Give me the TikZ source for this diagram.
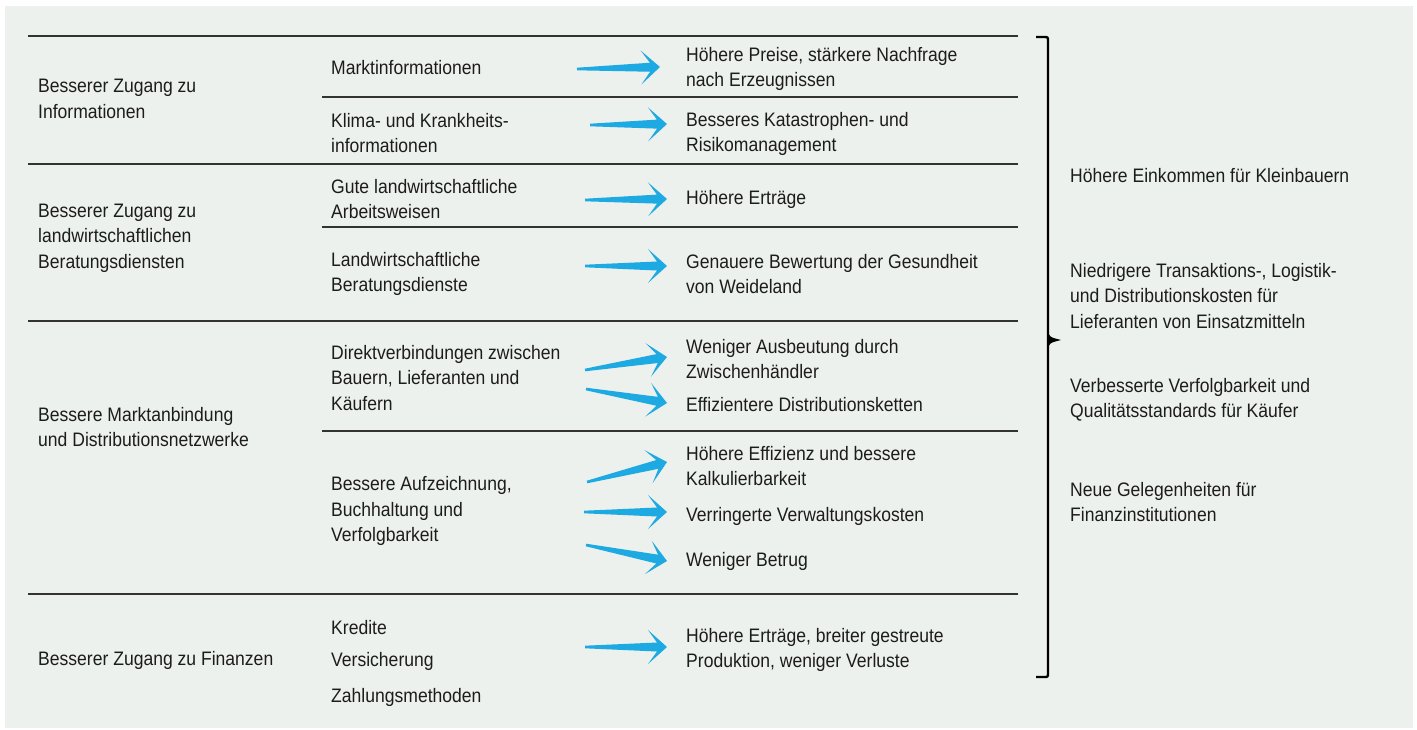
\documentclass[tikz,border=0pt]{standalone}
\usepackage{fontspec}
\setmainfont{Liberation Sans}[FakeStretch=0.9]
\usetikzlibrary{calc}
\definecolor{panel}{HTML}{EDF1EE}
\definecolor{arrowc}{HTML}{1DA9E1}
\definecolor{rulec}{HTML}{333333}
\definecolor{txt}{HTML}{1C1C1C}
\newcommand\fatarr[2]{%
  \coordinate (#1n) at ($(#2)!10pt!(#1)$);
  \coordinate (#1w) at ($(#2)!19pt!(#1)$);
  \fill[arrowc] ($(#1)!1.3pt!90:(#2)$) -- ($(#1n)!4.5pt!90:(#2)$) -- ($(#1w)!17pt!90:(#2)$) -- (#2)
     -- ($(#1w)!17pt!-90:(#2)$) -- ($(#1n)!4.5pt!-90:(#2)$) -- ($(#1)!1.3pt!-90:(#2)$) -- cycle;}
\begin{document}
\begin{tikzpicture}[x=1pt,y=-1pt,
  lbl/.style={anchor=west,inner sep=0pt,align=left,text=txt,font=\fontsize{19.5}{25.5}\selectfont},
  rowline/.style={draw=rulec,line width=1.3pt},
  bracel/.style={draw=black,line width=2.4pt}]
\useasboundingbox (0,0) rectangle (1417,729);
\fill[panel] (5,6) rectangle (1413,728);
% rules
\draw[rowline] (28,36) -- (1018,36);
\draw[rowline] (322,97) -- (1018,97);
\draw[rowline] (28,164) -- (1018,164);
\draw[rowline] (322,227) -- (1018,227);
\draw[rowline] (28,321) -- (1018,321);
\draw[rowline] (322,431) -- (1018,431);
\draw[rowline] (28,594) -- (1018,594);
% brace
\draw[bracel,rounded corners=2pt] (1036,37) -- (1048,37) -- (1048,677) -- (1036,677);
\fill[black] (1047,328) .. controls (1049,337) .. (1061,340) .. controls (1049,343) .. (1047,352) -- cycle;
% column 1
\node[lbl] (n1) at (38,99) {Besserer Zugang zu\\Informationen};
\node[lbl] (n2) at (38,238) {Besserer Zugang zu\\landwirtschaftlichen\\Beratungsdiensten};
\node[lbl] (n3) at (38,427) {Bessere Marktanbindung\\und Distributionsnetzwerke};
\node[lbl] (n4) at (38,660) {Besserer Zugang zu Finanzen};
% column 2
\node[lbl] (m1) at (331,68) {Marktinformationen};
\node[lbl] (m2) at (331,133) {Klima- und Krankheits-\\informationen};
\node[lbl] (m3) at (331,199) {Gute landwirtschaftliche\\Arbeitsweisen};
\node[lbl] (m4) at (331,274) {Landwirtschaftliche\\Beratungsdienste};
\node[lbl] (m5) at (331,378) {Direktverbindungen zwischen\\Bauern, Lieferanten und\\Käufern};
\node[lbl] (m6) at (331,511) {Bessere Aufzeichnung,\\Buchhaltung und\\Verfolgbarkeit};
\node[lbl] (m7) at (331,628) {Kredite};
\node[lbl] (m8) at (331,661) {Versicherung};
\node[lbl] (m9) at (331,697) {Zahlungsmethoden};
% column 3
\node[lbl] (r1) at (686,69) {Höhere Preise, stärkere Nachfrage\\nach Erzeugnissen};
\node[lbl] (r2) at (686,134) {Besseres Katastrophen- und\\Risikomanagement};
\node[lbl] (r3) at (686,199) {Höhere Erträge};
\node[lbl] (r4) at (686,274) {Genauere Bewertung der Gesundheit\\von Weideland};
\node[lbl] (r5) at (686,359) {Weniger Ausbeutung durch\\Zwischenhändler};
\node[lbl] (r6) at (686,405) {Effizientere Distributionsketten};
\node[lbl] (r7) at (686,466) {Höhere Effizienz und bessere\\Kalkulierbarkeit};
\node[lbl] (r8) at (686,516) {Verringerte Verwaltungskosten};
\node[lbl] (r9) at (686,561) {Weniger Betrug};
\node[lbl] (r10) at (686,650) {Höhere Erträge, breiter gestreute\\Produktion, weniger Verluste};
% column 4
\node[lbl] (o1) at (1070,176) {Höhere Einkommen für Kleinbauern};
\node[lbl] (o2) at (1070,296) {Niedrigere Transaktions-, Logistik-\\und Distributionskosten für\\Lieferanten von Einsatzmitteln};
\node[lbl] (o3) at (1070,400) {Verbesserte Verfolgbarkeit und\\Qualitätsstandards für Käufer};
\node[lbl] (o4) at (1070,502) {Neue Gelegenheiten für\\Finanzinstitutionen};
% arrows
\coordinate (t1) at (577,69);  \coordinate (h1) at (660,67);
\coordinate (t2) at (590,125); \coordinate (h2) at (667,124);
\coordinate (t3) at (585,200); \coordinate (h3) at (667,199);
\coordinate (t4) at (585,266); \coordinate (h4) at (667,266);
\coordinate (t5) at (585,370); \coordinate (h5) at (667,357);
\coordinate (t6) at (586,389); \coordinate (h6) at (667,403);
\coordinate (t7) at (587,482); \coordinate (h7) at (667,462);
\coordinate (t8) at (584,512); \coordinate (h8) at (667,512);
\coordinate (t9) at (586,545); \coordinate (h9) at (667,561);
\coordinate (t10) at (585,647); \coordinate (h10) at (667,647);
\fatarr{t1}{h1}
\fatarr{t2}{h2}
\fatarr{t3}{h3}
\fatarr{t4}{h4}
\fatarr{t5}{h5}
\fatarr{t6}{h6}
\fatarr{t7}{h7}
\fatarr{t8}{h8}
\fatarr{t9}{h9}
\fatarr{t10}{h10}
\end{tikzpicture}
\end{document}
